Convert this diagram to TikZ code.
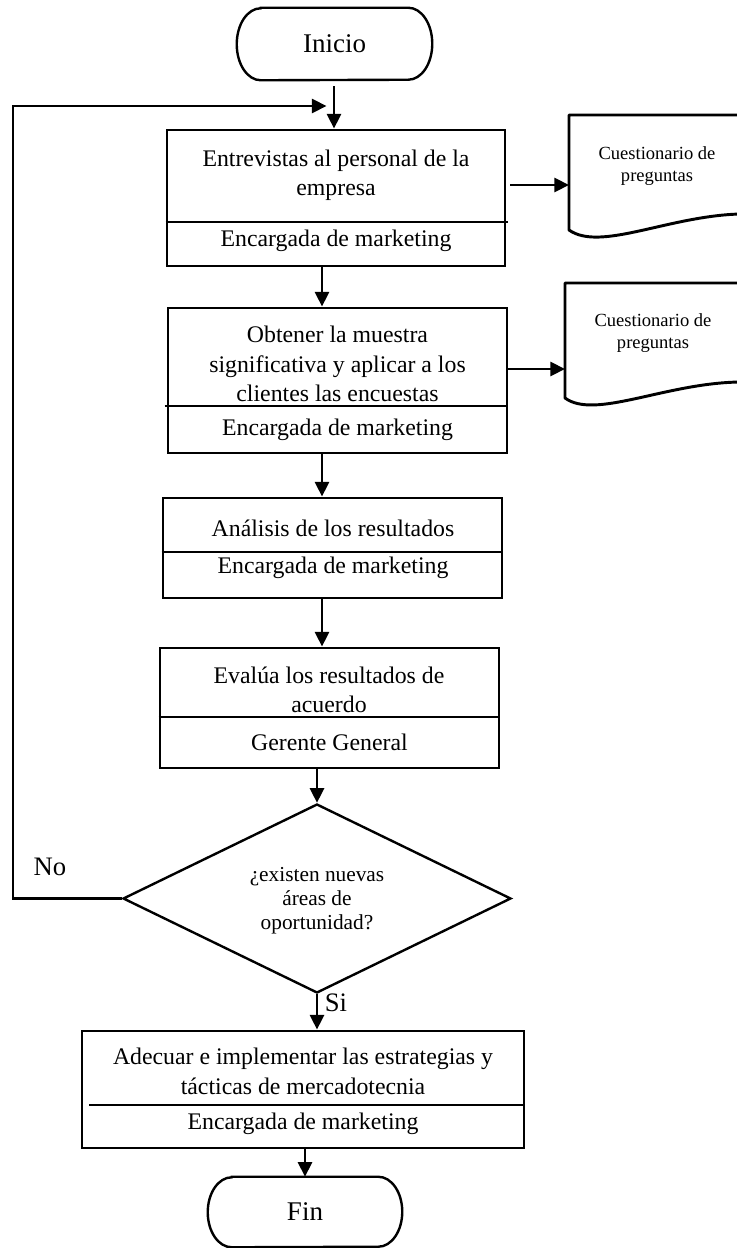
\documentclass[tikz,border=0pt]{standalone}
\usepackage{fontspec}
\setmainfont{Liberation Serif}
\usetikzlibrary{shapes.geometric,arrows.meta,calc}
\begin{document}
\begin{tikzpicture}[x=0.75pt,y=-0.75pt,
  box/.style={draw,line width=2.2pt,inner sep=0pt},
  ghost/.style={inner sep=0pt},
  divider/.style={line width=1.1pt},
  arr/.style={line width=2.2pt,-{Triangle[length=11pt,width=10.5pt]}},
  maintext/.style={align=center,font=\fontsize{17.85pt}{22pt}\selectfont,inner sep=0pt},
  termtext/.style={font=\fontsize{20.25pt}{24pt}\selectfont,inner sep=0pt},
  doctext/.style={align=center,font=\fontsize{13.9pt}{16.5pt}\selectfont,inner sep=0pt},
  dectext/.style={align=center,font=\fontsize{16pt}{18pt}\selectfont,inner sep=0pt},
  lbl/.style={font=\fontsize{20pt}{24pt}\selectfont,inner sep=0pt},
  termline/.style={line width=1.8pt},
  docline/.style={line width=2.2pt,line join=round}
]
\useasboundingbox (0,0) rectangle (736,1248);

% terminal outline with elliptic ends
\newcommand\termoutline[1]{%
  \draw[termline] ([xshift=18pt]#1.north west) -- ([xshift=-18pt]#1.north east)
    arc[start angle=90,end angle=-90,x radius=18pt,y radius=0.5*\termh]
    -- ([xshift=18pt]#1.south west)
    arc[start angle=270,end angle=90,x radius=18pt,y radius=0.5*\termh] -- cycle;}

% start / end
\def\termh{54pt}
\node[ghost,minimum width=146.25pt,minimum height=54pt] (ini) at (334.5,44) {};
\termoutline{ini}
\node[termtext] (init) at (ini.center) {Inicio};

\def\termh{52.5pt}
\node[ghost,minimum width=145.5pt,minimum height=52.5pt] (fin) at (305,1212) {};
\termoutline{fin}
\node[termtext] (fint) at (fin.center) {Fin};

% process boxes
\node[box,minimum width=253.5pt,minimum height=102pt] (b1) at (336,198) {};
\node[box,minimum width=254.25pt,minimum height=108.75pt] (b2) at (337.5,380.5) {};
\node[box,minimum width=254.25pt,minimum height=75pt] (b3) at (332.5,548) {};
\node[box,minimum width=254.25pt,minimum height=90pt] (b4) at (329.5,708) {};
\node[box,minimum width=331.5pt,minimum height=87.75pt] (b5) at (303,1089.5) {};

% dividers between task and responsible
\draw[divider] (b1.west |- 0,222) -- ([xshift=1.5pt]b1.east |- 0,222);
\draw[divider] ([xshift=-1.5pt]b2.west |- 0,406) -- (b2.east |- 0,406);
\draw[divider] (b3.west |- 0,552) -- (b3.east |- 0,552);
\draw[divider] (b4.west |- 0,717) -- (b4.east |- 0,717);
\draw[divider] ([xshift=6.5pt]b5.west |- 0,1105) -- (b5.east |- 0,1105);

% box texts
\node[maintext] (t1) at (336,175) {Entrevistas al personal de la\\empresa};
\node[maintext] (r1) at (336,241) {Encargada de marketing};
\node[maintext] (t2) at (337.5,364) {Obtener la muestra\\significativa y aplicar a los\\clientes las encuestas};
\node[maintext] (r2) at (337.5,430) {Encargada de marketing};
\node[maintext] (t3) at (333,528) {Análisis de los resultados};
\node[maintext] (r3) at (333,568) {Encargada de marketing};
\node[maintext] (t4) at (329,690) {Evalúa los resultados de\\acuerdo};
\node[maintext] (r4) at (329.5,742) {Gerente General};
\node[maintext] (t5) at (303,1071.5) {Adecuar e implementar las estrategias y\\tácticas de mercadotecnia};
\node[maintext] (r5) at (303,1124) {Encargada de marketing};

% decision
\node[draw,diamond,line width=1.8pt,inner sep=0pt,minimum width=291pt,minimum height=141.75pt] (dia) at (317,898.5) {};
\node[dectext] (diat) at (317,901) {¿existen nuevas\\áreas de\\oportunidad?};

% documents
\draw[docline] (740,115) -- (569,115) -- (569,230)
  .. controls (600,252) and (668,216) .. (740,214);
\node[doctext] (d1t) at (657,166) {Cuestionario de\\preguntas};
\draw[docline] (740,283) -- (565,283) -- (565,398)
  .. controls (595,420) and (665,383) .. (740,382);
\node[doctext] (d2t) at (653,333) {Cuestionario de\\preguntas};
\coordinate (d1w) at (569,185);
\coordinate (d2w) at (565,369);

% main flow
\coordinate (col) at (322,0);
\draw[arr,shorten <=4.5pt] (ini.south -| 334,0) -- (b1.north -| 334,0);
\draw[arr] (b1.south -| col) -- (b2.north -| col);
\draw[arr] (b2.south -| col) -- (b3.north -| col);
\draw[arr] (b3.south -| col) -- (b4.north -| col);
\draw[arr] (dia.north |- b4.south) -- (dia.north);
\draw[arr] (dia.south) -- (dia.south |- b5.north);
\draw[arr] (fin.north |- b5.south) -- (fin.north);

% outputs
\draw[arr,shorten <=3pt] (b1.east |- d1w) -- (d1w);
\draw[arr] (b2.east |- d2w) -- (d2w);

% loop back
\coordinate (lp) at (13,106);
\draw[arr] (dia.west) -| (lp) -- ([xshift=-6pt]lp -| ini.south);

% branch labels
\node[lbl] (no) at (50,867) {No};
\node[lbl] (si) at (336,1003) {Si};
\end{tikzpicture}
\end{document}
